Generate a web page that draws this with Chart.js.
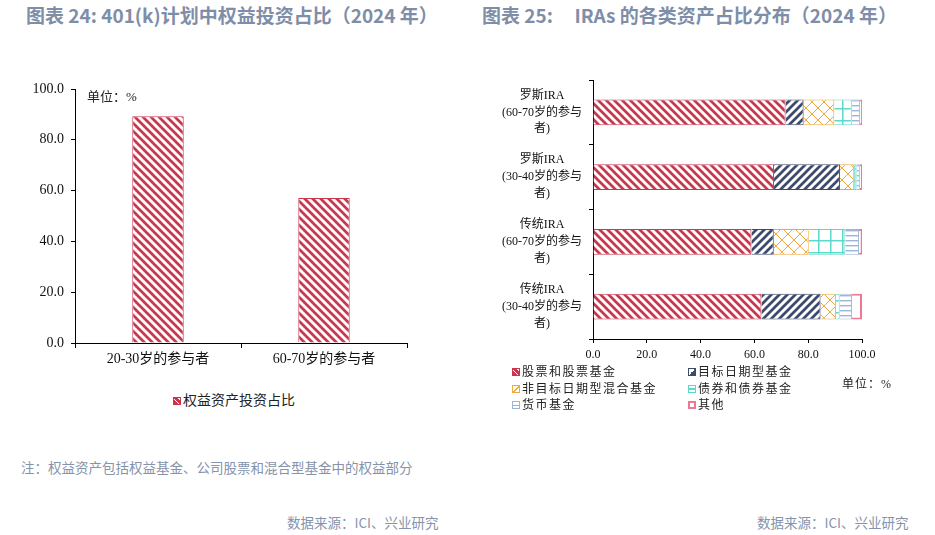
<!DOCTYPE html>
<html>
<head>
<meta charset="utf-8">
<script src="https://cdn.jsdelivr.net/npm/chart.js@4"></script>
<style>
  body { margin: 0; background: #fff; }
  #page { position: relative; width: 935px; height: 535px; overflow: hidden; }
  .abs { position: absolute; white-space: pre; }
  .title { font-family: "Noto Sans CJK SC", sans-serif; font-size: 19px; font-weight: 600; color: #7f8ea8; line-height: 22px; }
  .note { font-family: "Noto Sans CJK SC", sans-serif; font-size: 13.5px; color: #8593ab; line-height: 18px; }
  .serif { font-family: "Liberation Serif", "Noto Sans CJK SC", serif; color: #222; }
  .sw { position: absolute; width: 6px; height: 6px; border: 1px solid; }
  canvas { position: absolute; }
</style>
</head>
<body>
<div id="page">
  <div class="abs title" style="left:26px; top:4px;">图表 24: 401(k)计划中权益投资占比（2024 年）</div>
  <div class="abs title" style="left:482px; top:4px;">图表 25:     IRAs 的各类资产占比分布（2024 年）</div>

  <canvas id="leftChart" width="470" height="300" style="left:0; top:70px;"></canvas>
  <canvas id="rightChart" width="465" height="310" style="left:470px; top:60px;"></canvas>

  <div class="abs serif" style="left:87px; top:89px; font-size:13px; line-height:16px;">单位：%</div>
  <div id="legendLeft"></div>
  <div id="legendRight"></div>
  <div class="abs serif" style="left:842px; top:376px; font-size:12px; line-height:16px; letter-spacing:1px;">单位：%</div>

  <div class="abs note" style="left:21px; top:458px;">注：权益资产包括权益基金、公司股票和混合型基金中的权益部分</div>
  <div class="abs note" style="left:287px; top:513px;">数据来源：ICI、兴业研究</div>
  <div class="abs note" style="left:757px; top:513px;">数据来源：ICI、兴业研究</div>
</div>

<script>
// ── Data ────────────────────────────────────────────────────────────────
const leftCategories = ["20-30岁的参与者", "60-70岁的参与者"];
const equityShare = [89.3, 57.1];
const leftSeriesName = "权益资产投资占比";

const iraCategories = [
  ["罗斯IRA", "(60-70岁的参与", "者)"],
  ["罗斯IRA", "(30-40岁的参与", "者)"],
  ["传统IRA", "(60-70岁的参与", "者)"],
  ["传统IRA", "(30-40岁的参与", "者)"],
];
const seriesNames = ["股票和股票基金", "目标日期型基金", "非目标日期型混合基金", "债券和债券基金", "货币基金", "其他"];
const stocks          = [71.6, 67.3, 58.9, 62.6];
const targetDate      = [6.7, 24.5, 8.3, 22.0];
const nonTargetHybrid = [11.4, 5.3, 13.0, 5.7];
const bonds           = [6.5, 0.9, 13.6, 1.4];
const moneyFunds      = [3.1, 1.2, 5.1, 4.6];
const other           = [0.7, 0.8, 1.1, 3.7];

const xTicks = [0, 20, 40, 60, 80, 100];

// ── Colours & patterns ──────────────────────────────────────────────────
const COLORS = {
  red: "#c8374d", navy: "#3e4a6b", orange: "#f2a93b",
  cyan: "#5cd8cc", lightBlue: "#9db5d6", pink: "#ee7893",
};

function makePattern(type, color) {
  const size = { back: 8, fwd: 8, diamond: 12, grid: 12, hline: 5 }[type];
  const c = document.createElement("canvas");
  c.width = size; c.height = size;
  const g = c.getContext("2d");
  g.fillStyle = "#fff";
  g.fillRect(0, 0, size, size);
  g.strokeStyle = color;
  g.fillStyle = color;
  g.beginPath();
  if (type === "back") {
    g.lineWidth = 2.7;
    for (let k = -1; k <= 1; k++) { g.moveTo(k * size - 1, -1); g.lineTo(k * size + size + 1, size + 1); }
  } else if (type === "fwd") {
    g.lineWidth = 2.7;
    for (let k = 0; k <= 2; k++) { g.moveTo(k * size + 1, -1); g.lineTo(k * size - size - 1, size + 1); }
  } else if (type === "diamond") {
    g.lineWidth = 1;
    for (let k = -1; k <= 1; k++) { g.moveTo(k * size - 1, -1); g.lineTo(k * size + size + 1, size + 1); }
    for (let k = 0; k <= 2; k++) { g.moveTo(k * size + 1, -1); g.lineTo(k * size - size - 1, size + 1); }
  } else if (type === "grid") {
    g.fillRect(0, 0, 1.5, size);
    g.fillRect(0, 0, size, 1.5);
  } else if (type === "hline") {
    g.fillRect(0, 0, size, 1.4);
  }
  g.stroke();
  return g.createPattern(c, "repeat");
}

const serifFont = "'Liberation Serif', 'Noto Sans CJK SC', serif";

function fixedWidth(w) {
  return scale => { scale.width = w; scale.paddingTop = 0; scale.paddingBottom = 0; };
}
function fixedHeight(h) { return scale => { scale.height = h; }; }

// ── Left: equity share bar chart ────────────────────────────────────────
new Chart(document.getElementById("leftChart"), {
  type: "bar",
  data: {
    labels: leftCategories,
    datasets: [{
      label: leftSeriesName,
      data: equityShare,
      backgroundColor: makePattern("back", COLORS.red),
      borderColor: COLORS.red,
      borderWidth: 1,
      barPercentage: 0.31,
      categoryPercentage: 1,
    }],
  },
  options: {
    responsive: false,
    animation: false,
    events: [],
    layout: { padding: { left: 0, right: 63, top: 19, bottom: 0 } },
    plugins: { legend: { display: false }, tooltip: { enabled: false } },
    scales: {
      x: {
        afterFit: fixedHeight(27),
        grid: { drawOnChartArea: false, drawTicks: true, tickLength: 5, color: "#000", offset: true },
        border: { color: "#000", width: 1 },
        ticks: { color: "#111", font: { family: serifFont, size: 14 }, padding: 3 },
      },
      y: {
        min: 0, max: 100,
        afterFit: fixedWidth(75),
        grid: { drawOnChartArea: false, drawTicks: true, tickLength: 4, color: "#000" },
        border: { color: "#000", width: 1 },
        ticks: { stepSize: 20, color: "#111", font: { family: serifFont, size: 14 }, padding: 7,
                 callback: v => v.toFixed(1) },
      },
    },
  },
});

// ── Right: IRA asset mix stacked bars ───────────────────────────────────
const rightSeries = [
  { data: stocks,          bg: makePattern("back", COLORS.red),          border: COLORS.red },
  { data: targetDate,      bg: makePattern("fwd", COLORS.navy),          border: COLORS.navy },
  { data: nonTargetHybrid, bg: makePattern("diamond", COLORS.orange),    border: COLORS.orange },
  { data: bonds,           bg: makePattern("grid", COLORS.cyan),         border: COLORS.cyan },
  { data: moneyFunds,      bg: makePattern("hline", COLORS.lightBlue),   border: COLORS.lightBlue },
  { data: other,           bg: "#fff",                                   border: COLORS.pink },
];

new Chart(document.getElementById("rightChart"), {
  type: "bar",
  data: {
    labels: iraCategories,
    datasets: rightSeries.map((s, i) => ({
      label: seriesNames[i],
      data: s.data,
      backgroundColor: s.bg,
      borderColor: s.border,
      borderWidth: i === 5 ? 2 : 1,
      barPercentage: 0.4,
      categoryPercentage: 1,
    })),
  },
  options: {
    indexAxis: "y",
    responsive: false,
    animation: false,
    events: [],
    layout: { padding: { left: 0, right: 73, top: 20, bottom: 0 } },
    plugins: { legend: { display: false }, tooltip: { enabled: false } },
    scales: {
      x: {
        stacked: true, min: 0, max: 100,
        afterFit: fixedHeight(31),
        afterBuildTicks: scale => { scale.ticks = xTicks.map(v => ({ value: v })); },
        grid: { drawOnChartArea: false, drawTicks: true, tickLength: 4, color: "#000" },
        border: { color: "#000", width: 1 },
        ticks: { color: "#111", font: { family: serifFont, size: 12 }, padding: 5,
                 callback: v => Number(v).toFixed(1) },
      },
      y: {
        stacked: true,
        afterFit: fixedWidth(123),
        grid: { drawOnChartArea: false, drawTicks: true, tickLength: 4, color: "#000", offset: true },
        border: { color: "#000", width: 1 },
        ticks: { color: "#111", crossAlign: "center", padding: 7,
                 font: { family: serifFont, size: 12, lineHeight: 1.4 } },
      },
    },
  },
});

// ── HTML legends ────────────────────────────────────────────────────────
const swatchCss = {
  red:       `background:repeating-linear-gradient(45deg, ${COLORS.red} 0 3px, #fff 3px 4px); border-color:${COLORS.red};`,
  navy:      `background:linear-gradient(135deg, #fff 0 50%, ${COLORS.navy} 50% 100%); border-color:${COLORS.navy};`,
  orange:    `background:linear-gradient(135deg, #fff 0 45%, ${COLORS.orange} 45% 60%, #fff 60%); border-color:${COLORS.orange};`,
  cyan:      `background:linear-gradient(180deg, #fff 0 40%, ${COLORS.cyan} 40% 60%, #fff 60%); border-color:${COLORS.cyan};`,
  lightBlue: `background:linear-gradient(180deg, #fff 0 55%, ${COLORS.lightBlue} 55% 75%, #fff 75%); border-color:${COLORS.lightBlue};`,
  pink:      `background:#fff; border:2px solid ${COLORS.pink}; width:4px; height:4px;`,
};

function legendItem(x, y, key, text, fontSize, spacing) {
  return `<div class="sw" style="left:${x}px; top:${y - 4}px; ${swatchCss[key]}"></div>` +
         `<div class="abs serif" style="left:${x + 10}px; top:${y - 9}px; font-size:${fontSize}px; line-height:18px; letter-spacing:${spacing}px;">${text}</div>`;
}

document.getElementById("legendLeft").innerHTML =
  legendItem(173, 401, "red", leftSeriesName, 14, 0);

const rightKeys = ["red", "navy", "orange", "cyan", "lightBlue", "pink"];
const rightPos = [[512, 372], [688, 372], [512, 389], [688, 389], [512, 405], [688, 405]];
document.getElementById("legendRight").innerHTML = seriesNames
  .map((n, i) => legendItem(rightPos[i][0], rightPos[i][1], rightKeys[i], n, 12, 1.5))
  .join("");
</script>
</body>
</html>
